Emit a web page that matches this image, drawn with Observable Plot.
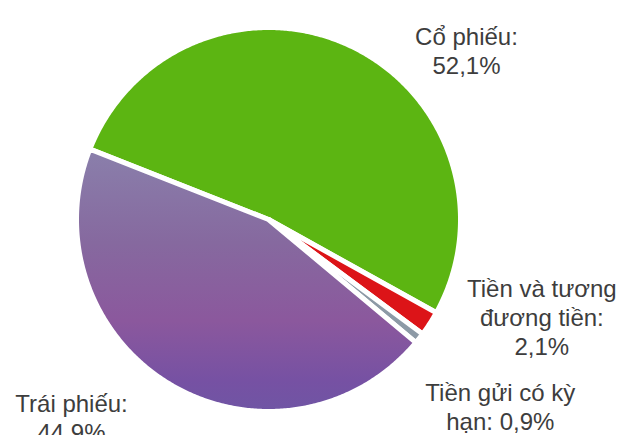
<!DOCTYPE html>
<html>
<head>
<meta charset="utf-8">
<script src="https://cdn.jsdelivr.net/npm/d3@7"></script>
<script src="https://cdn.jsdelivr.net/npm/@observablehq/plot@0.6"></script>
<style>
  html, body { margin: 0; padding: 0; background: #fff; }
</style>
</head>
<body>
<div id="chart"></div>
<script>
// ---- data ----
const categories = ["Cổ phiếu", "Tiền và tương đương tiền", "Tiền gửi có kỳ hạn", "Trái phiếu"];
const shares = [52.1, 2.1, 0.9, 44.9];
const labels = ["Cổ phiếu:\n52,1%", "Tiền và tương\nđương tiền:\n2,1%", "Tiền gửi có kỳ\nhạn: 0,9%", "Trái phiếu:\n44,9%"];

// ---- layout / style ----
const colors = ["#5cb512", "#dc1418", "#8d9aa6", "url(#purpleGrad)"];
const labelOffsets = [[116, -21], [112, -47], [81, 42], [-99, 7]];
const cx = 268, cy = 219, R = 192;
const startDeg = -68.5;

const pie = d3.pie().sort(null).value(d => d.value).startAngle(startDeg * Math.PI / 180).endAngle((startDeg + 360) * Math.PI / 180);
const arcs = pie(categories.map((name, i) => ({name, value: shares[i]})));

// polygon outline of each slice, derived from the pie angles
const outline = [];
for (const a of arcs) {
  outline.push({name: a.data.name, x: 0, y: 0});
  const n = Math.max(2, Math.ceil((a.endAngle - a.startAngle) / (Math.PI / 360)));
  for (let k = 0; k <= n; k++) {
    const t = a.startAngle + (a.endAngle - a.startAngle) * k / n;
    outline.push({name: a.data.name, x: Math.sin(t), y: Math.cos(t)});
  }
}

const labelData = arcs.map((a, i) => {
  const m = (a.startAngle + a.endAngle) / 2;
  return {text: labels[i], x: Math.sin(m), y: Math.cos(m), dx: labelOffsets[i][0], dy: labelOffsets[i][1]};
});

const defs = () => {
  const d = d3.create("svg:defs");
  const g = d.append("linearGradient").attr("id", "purpleGrad")
    .attr("gradientUnits", "userSpaceOnUse")
    .attr("x1", 0).attr("y1", 150).attr("x2", 0).attr("y2", 412);
  [[0, "#8a7fab"], [0.35, "#86699f"], [0.65, "#8b589d"], [0.88, "#7651a3"], [1, "#6f55a4"]]
    .forEach(([o, c]) => g.append("stop").attr("offset", o).attr("stop-color", c));
  return d.node();
};

const chart = Plot.plot({
  width: 619,
  height: 435,
  x: {domain: [-1, 1], range: [cx - R, cx + R], axis: null},
  y: {domain: [-1, 1], range: [cy + R, cy - R], axis: null},
  color: {type: "ordinal", domain: categories, range: colors},
  style: {background: "#fff"},
  marks: [
    defs,
    Plot.line(outline, {x: "x", y: "y", z: "name", fill: "name", stroke: "white", strokeWidth: 5, strokeLinejoin: "round", curve: "linear-closed"}),
    ...labelData.map(l => Plot.text([l], {
      x: "x", y: "y", text: "text", dx: l.dx, dy: l.dy,
      textAnchor: "middle", lineAnchor: "top", lineHeight: 1.2,
      fontSize: 24, fontFamily: "Liberation Sans, Arial, sans-serif", fill: "#3d3d3d"
    }))
  ]
});
document.getElementById("chart").appendChild(chart);
</script>
</body>
</html>
